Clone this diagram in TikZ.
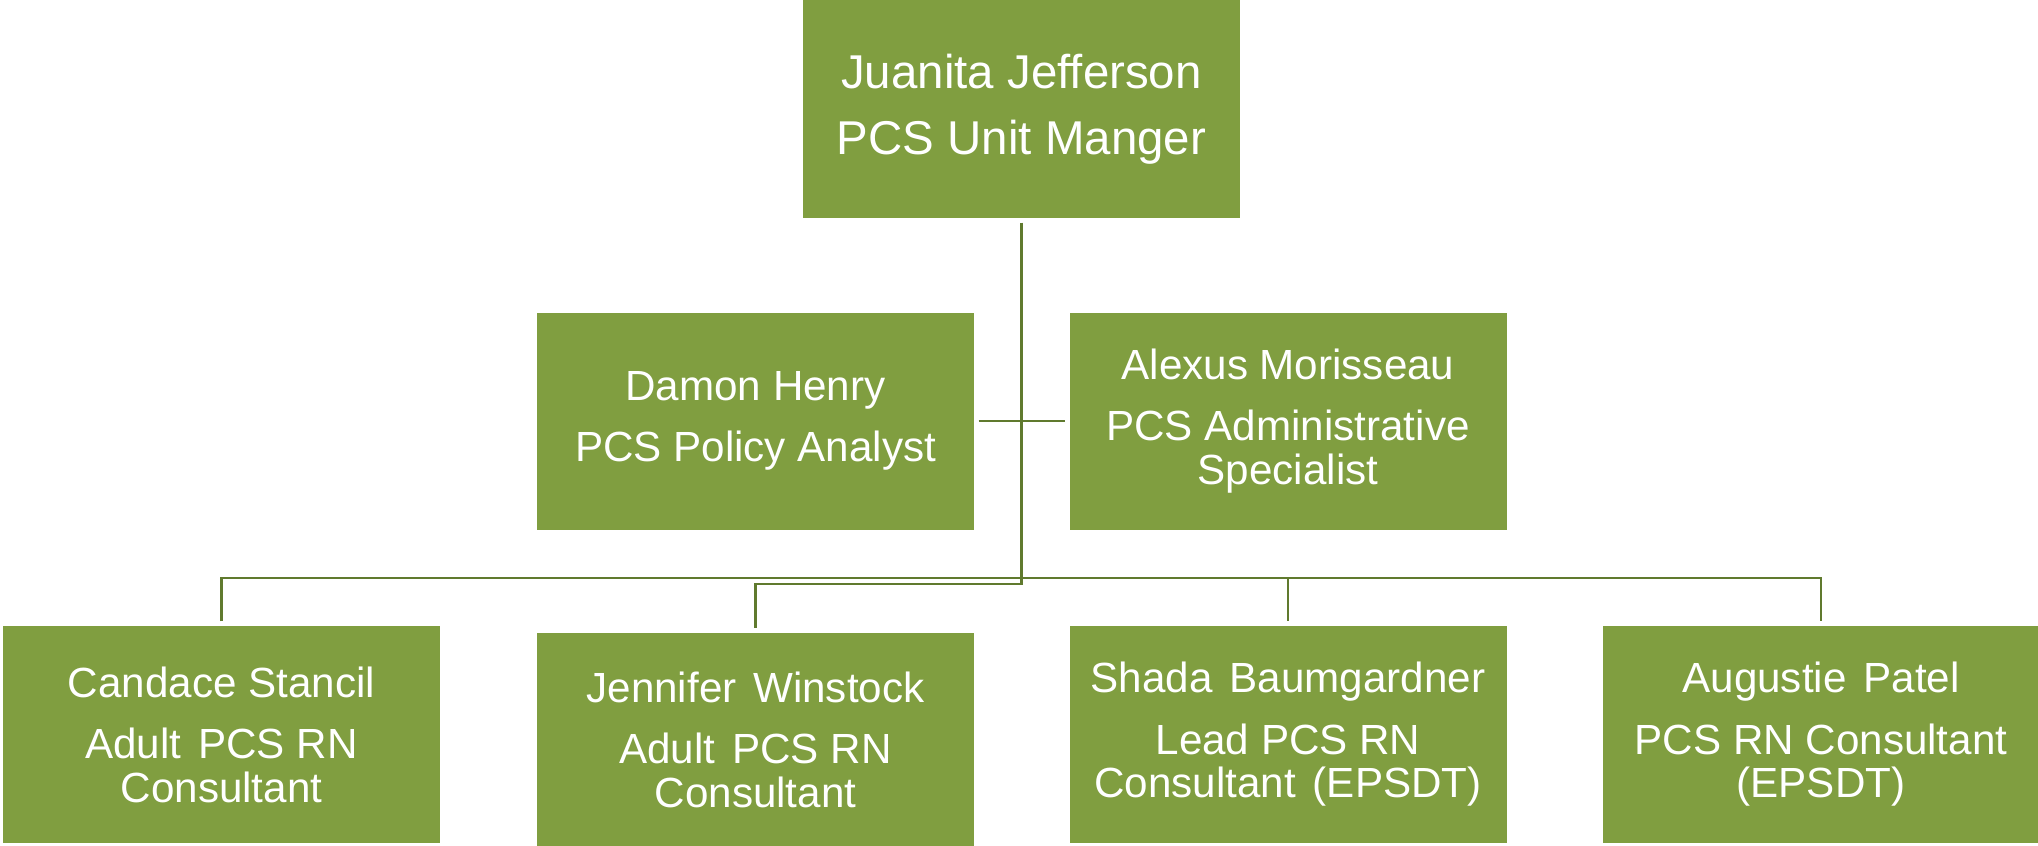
\documentclass[tikz,border=0pt]{standalone}
\usepackage{fontspec}
\setmainfont{Liberation Sans}
\definecolor{olive}{RGB}{128,158,64}
\definecolor{oliveline}{RGB}{96,122,46}
\newcommand{\wsp}{\hspace{0.4em}}
\tikzset{post/.style = {rectangle, fill=olive, text=white, minimum width=4.37cm, minimum height=2.17cm, inner sep=0pt, align=center, font=\fontsize{12}{12.5}\selectfont},
           head/.style = {post, minimum height=2.18cm, font=\fontsize{13.5}{18.8}\selectfont},
           link/.style = {draw=oliveline, line width=0.8pt, shorten <=0.04cm, shorten >=0.04cm}}

\begin{document}
\begin{tikzpicture}
    \useasboundingbox (0,0) rectangle (20.38,-8.46);
    \node[head] (mgr) at (10.215,-1.09) {Juanita Jefferson\\PCS Unit Manger};
    \node[post] (dh) at (7.555,-4.21) {Damon Henry\\[4.9pt]PCS Policy Analyst};
    \node[post] (am) at (12.88,-4.21) {Alexus Morisseau\\[4.9pt]PCS Administrative\\Specialist};
    \node[post] (cs) at (2.215,-7.345) {Candace Stancil\\[4.9pt]Adult\wsp PCS RN\\Consultant};
    \node[post, minimum height=2.13cm] (jw) at (7.555,-7.395) {Jennifer\wsp Winstock\\[4.9pt]Adult\wsp PCS RN\\Consultant};
    \node[post] (sb) at (12.88,-7.345) {Shada\wsp Baumgardner\\[4.9pt]Lead PCS RN\\Consultant\wsp (EPSDT)};
    \node[post] (ap) at (18.21,-7.345) {Augustie\wsp Patel\\[4.9pt]PCS RN Consultant\\(EPSDT)};
    \coordinate (bus) at (10.215,-5.78);
    \coordinate (jog) at (10.215,-5.84);
    \draw[link] (mgr.south) -- (jog) -| (jw.north);
    \draw[link] (dh.east) -- (am.west);
    \draw[link] (cs.north) |- (bus) -| (ap.north);
    \draw[link, shorten <=0pt] (bus -| sb.north) -- (sb.north);
\end{tikzpicture}
\end{document}
